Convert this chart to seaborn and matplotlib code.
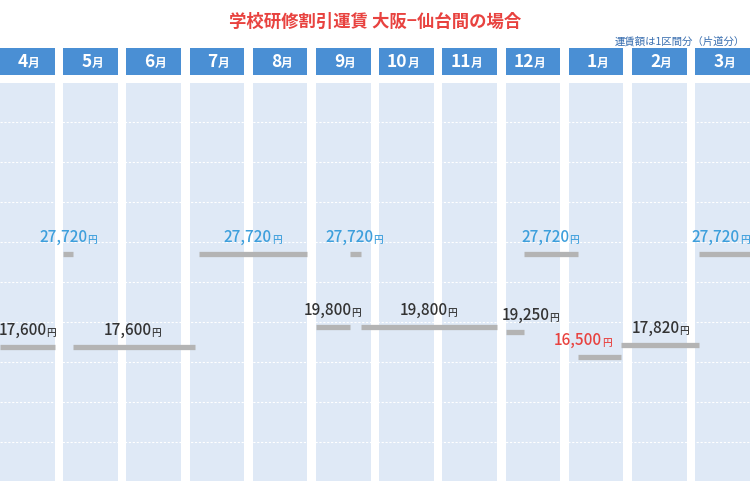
import matplotlib.pyplot as plt
import numpy as np
import seaborn as sns

sns.set_style("white")
plt.rcParams['font.family'] = ['Noto Sans CJK JP', 'DejaVu Sans']

months = ['4', '5', '6', '7', '8', '9', '10', '11', '12', '1', '2', '3']

# fare segments: start (month index, fraction), end (month index, fraction), fare
seg_start = [(0, 0.0), (1, 0.0), (1, 0.18), (3, 0.17), (5, 0.0), (5, 0.62),
             (5, 0.82), (8, 0.0), (8, 0.33), (9, 0.17), (9, 0.95), (11, 0.07)]
seg_end = [(0, 1.0), (1, 0.18), (3, 0.1), (4, 1.0), (5, 0.62), (5, 0.82),
           (7, 1.0), (8, 0.33), (9, 0.17), (9, 0.95), (11, 0.07), (11, 1.0)]
seg_fare = [17600, 27720, 17600, 27720, 19800, 27720,
            19800, 19250, 27720, 16500, 17820, 27720]

# fare labels: anchor (month index, fraction), fare
lab_pos = [(0, 0.84), (1, 0.44), (2, 0.45), (4, 0.34), (5, 0.64), (5, 1.05),
           (6, 1.24), (8, 0.79), (8, 1.16), (9, 0.6), (10, 0.86), (11, 0.81)]
lab_fare = [17600, 27720, 17600, 27720, 19800, 27720,
            19800, 19250, 27720, 16500, 17820, 27720]

PITCH, COLW = 63.2, 54.5


def pos(m):
    return m[0] * PITCH + m[1] * COLW


def fare_color(v):
    if v == 27720:
        return '#3d9fdc'
    if v == 16500:
        return '#e8423f'
    return '#333333'


fig = plt.figure(figsize=(7.5, 4.86), dpi=100)
ax = fig.add_axes([0, 5 / 486, 1, 398 / 486])
hx = fig.add_axes([0, (486 - 75) / 486, 1, 27 / 486])

px = 0.00922  # pixels per yen
ax.set_xlim(0, 750)
ax.set_ylim(27720 - 227 / px, 27720 + 171 / px)
hx.set_xlim(0, 750)
hx.set_ylim(0, 1)

for i, m in enumerate(months):
    x0 = i * PITCH
    ax.axvspan(x0, x0 + COLW, color='#dfe9f6', zorder=0, lw=0)
    hx.axvspan(x0, x0 + COLW, color='#4a8fd4', zorder=0, lw=0)
    cx = x0 + COLW / 2
    hx.text(cx + 1, 0.47, m, color='white', fontsize=12.5, fontweight='bold',
            ha='right', va='center')
    hx.text(cx + 1, 0.42, '月', color='white', fontsize=8.5, fontweight='bold',
            ha='left', va='center')

for yp in np.arange(122, 481, 40):
    ax.axhline(27720 + (254 - yp) / px, color='white', lw=0.8, ls=(0, (2, 1.5)), zorder=1)

for s, e, v in zip(seg_start, seg_end, seg_fare):
    ax.hlines(v, pos(s), pos(e), color='#b4b4b4', lw=3.8, zorder=2)

for p, v in zip(lab_pos, lab_fare):
    x = pos(p)
    c = fare_color(v)
    ax.annotate(f'{v:,}', (x, v), xytext=(0.5, 6), textcoords='offset points',
                ha='right', va='bottom', fontsize=11, fontweight='medium',
                color=c, zorder=3)
    ax.annotate('円', (x, v), xytext=(0.3, 6.5), textcoords='offset points',
                ha='left', va='bottom', fontsize=7, fontweight='medium',
                color=c, zorder=3)

for a in (ax, hx):
    a.set_axis_off()

fig.text(0.5, 1 - 22 / 486, '学校研修割引運賃 大阪−仙台間の場合', color='#e8423f',
         fontsize=12.5, fontweight='bold', ha='center', va='center')
fig.text(745 / 750, 1 - 41 / 486, '運賃額は1区間分（片道分）', color='#3a6fb0',
         fontsize=7.5, ha='right', va='center')

fig.savefig('out.png', dpi=100)
